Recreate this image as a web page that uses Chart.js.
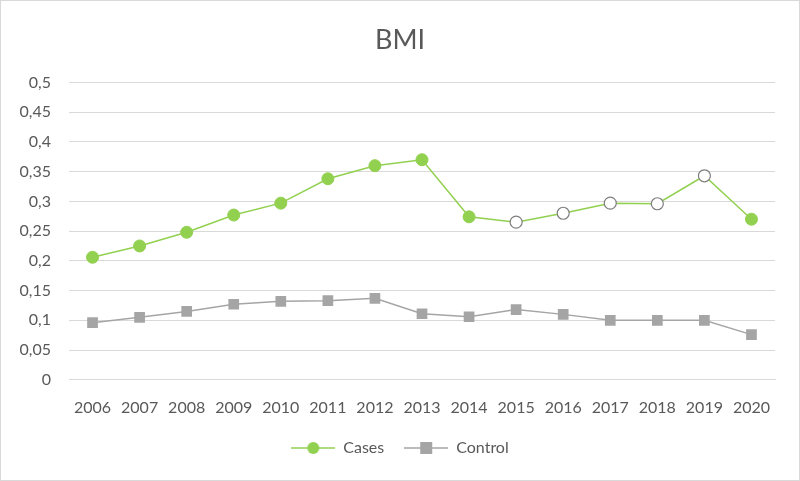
<!DOCTYPE html>
<html lang="en">

<head>
  <meta charset="UTF-8" />
  <title>BMI</title>
  <style>
    body {
      margin: 0;
      background: #fff;
    }
    div {
      width: 798px;
      height: 479px;
      border: 1px solid #d9d9d9;
    }
  </style>
</head>

<body>
  <div>
    <canvas id="myChart"></canvas>
  </div>

  <script src="https://cdn.jsdelivr.net/npm/chart.js"></script>
  <script>
    const years = ["2006", "2007", "2008", "2009", "2010", "2011", "2012", "2013",
      "2014", "2015", "2016", "2017", "2018", "2019", "2020"];
    const cases = [0.206, 0.225, 0.248, 0.277, 0.297, 0.338, 0.36, 0.37,
      0.274, 0.265, 0.28, 0.297, 0.296, 0.343, 0.27];
    const control = [0.096, 0.105, 0.115, 0.127, 0.132, 0.133, 0.137, 0.111,
      0.106, 0.118, 0.11, 0.1, 0.1, 0.1, 0.076];
    // years drawn as hollow circles on the Cases line
    const hollow = ["2015", "2016", "2017", "2018", "2019"];

    const green = "#92d050";
    const grey = "#a5a5a5";
    const txt = "#595959";
    const font = "Lato, 'Open Sans', sans-serif";

    // little line + marker pictures for the legend
    function legendIcon(color, square) {
      const c = document.createElement("canvas");
      c.width = 44;
      c.height = 14;
      const g = c.getContext("2d");
      g.strokeStyle = color;
      g.lineWidth = 1.5;
      g.beginPath();
      g.moveTo(0, 7);
      g.lineTo(44, 7);
      g.stroke();
      g.fillStyle = color;
      if (square) {
        g.fillRect(16, 1, 12, 12);
      } else {
        g.beginPath();
        g.arc(22, 7, 6, 0, Math.PI * 2);
        g.fill();
      }
      return c;
    }
    const icons = [legendIcon(green, false), legendIcon(grey, true)];

    const ctx = document.getElementById("myChart");
    new Chart(ctx, {
      type: "line",
      data: {
        labels: years,
        datasets: [
          {
            label: "Cases",
            data: cases,
            borderColor: green,
            borderWidth: 1.5,
            pointRadius: 6,
            pointHoverRadius: 6,
            pointBackgroundColor: (c) => hollow.includes(years[c.dataIndex]) ? "#fff" : green,
            pointBorderColor: (c) => hollow.includes(years[c.dataIndex]) ? "#7f7f7f" : green,
            pointBorderWidth: (c) => hollow.includes(years[c.dataIndex]) ? 1.2 : 1,
            tension: 0,
          },
          {
            label: "Control",
            data: control,
            borderColor: grey,
            borderWidth: 1.5,
            pointStyle: "rect",
            pointRadius: 6.5,
            pointHoverRadius: 6.5,
            pointBackgroundColor: grey,
            pointBorderColor: grey,
            tension: 0,
          },
        ],
      },
      options: {
        responsive: true,
        maintainAspectRatio: false,
        animation: false,
        layout: { padding: { left: 10, right: 10, top: 13, bottom: 14 } },
        plugins: {
          title: {
            display: true,
            text: "BMI",
            color: txt,
            font: { family: font, size: 27, weight: "normal" },
            padding: { top: 10, bottom: 26 },
          },
          legend: {
            position: "bottom",
            labels: {
              color: txt,
              font: { family: font, size: 16 },
              usePointStyle: true,
              pointStyleWidth: 44,
              padding: 20,
              generateLabels: (chart) =>
                chart.data.datasets.map((ds, i) => ({
                  text: ds.label,
                  pointStyle: icons[i],
                  fontColor: txt,
                  datasetIndex: i,
                  lineWidth: 0,
                })),
            },
          },
          tooltip: { enabled: false },
        },
        scales: {
          x: {
            offset: true,
            grid: { display: false },
            border: { color: "#d9d9d9" },
            ticks: { color: txt, font: { family: font, size: 16 }, padding: 10, maxRotation: 0 },
            afterFit: (s) => { s.height -= 7; },
          },
          y: {
            min: 0,
            max: 0.5,
            border: { display: false },
            grid: { color: "#d9d9d9", drawTicks: false },
            ticks: {
              stepSize: 0.05,
              color: txt,
              padding: 18,
              font: { family: font, size: 16 },
              callback: (v) => String(Math.round(v * 100) / 100).replace(".", ","),
            },
            afterFit: (s) => { s.width = 58; },
          },
          // empty right-hand strip so the plot stops short of the edge
          right: {
            position: "right",
            grid: { display: false },
            border: { display: false },
            ticks: { display: false },
            afterFit: (s) => { s.width = 14; },
          },
        },
      },
    });
  </script>
</body>

</html>
